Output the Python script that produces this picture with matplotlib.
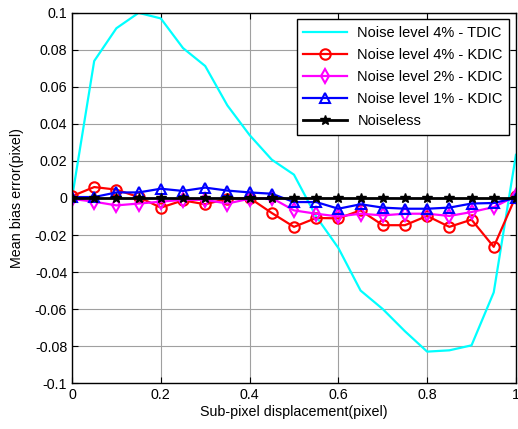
import matplotlib
matplotlib.use("Agg")
import matplotlib.pyplot as plt
import numpy as np

plt.rcParams['font.family'] = ['Liberation Sans', 'DejaVu Sans']

x = [0, 0.05, 0.1, 0.15, 0.2, 0.25, 0.3, 0.35, 0.4, 0.45, 0.5,
     0.55, 0.6, 0.65, 0.7, 0.75, 0.8, 0.85, 0.9, 0.95, 1.0]

tdic_4 = [0, 0.074, 0.0917, 0.1, 0.097, 0.081, 0.0713, 0.050, 0.034, 0.0207, 0.0126,
          -0.010, -0.027, -0.050, -0.060, -0.072, -0.083, -0.0823, -0.0796, -0.051, 0.0233]
kdic_4 = [0.001, 0.0059, 0.0045, 0.0005, -0.0052, -0.0013, -0.0034, -0.0004, 0.0, -0.0081, -0.0156,
          -0.0108, -0.011, -0.0067, -0.0147, -0.0147, -0.0097, -0.0156, -0.0117, -0.0264, 0.001]
kdic_2 = [-0.0005, -0.002, -0.004, -0.003, -0.002, -0.001, -0.001, -0.003, -0.0004, 0.0, -0.0067,
          -0.0085, -0.010, -0.0085, -0.0094, -0.0085, -0.0085, -0.0097, -0.0076, -0.0049, 0.001]
kdic_1 = [0.0005, 0.0005, 0.003, 0.003, 0.005, 0.0038, 0.0056, 0.004, 0.003, 0.0023, -0.0022,
          -0.0022, -0.0058, -0.0034, -0.0052, -0.0058, -0.0058, -0.0052, -0.003, -0.0027, 0.0]
noiseless = [0.0] * len(x)

labels = ['Noise level 4% - TDIC', 'Noise level 4% - KDIC', 'Noise level 2% - KDIC',
          'Noise level 1% - KDIC', 'Noiseless']

fig = plt.figure(figsize=(5.18, 4.29), dpi=100)
ax = fig.add_axes([0.139, 0.107, 0.857, 0.863])

lw = 1.6
ax.plot(x, tdic_4, color=(0, 1, 1), lw=lw, label=labels[0])
ax.plot(x, kdic_4, color=(1, 0, 0), lw=lw, marker='o', ms=7.5, mfc='none', mew=1.5, label=labels[1])
ax.plot(x, kdic_2, color=(1, 0, 1), lw=lw, marker='d', ms=7.5, mfc='none', mew=1.5, label=labels[2])
ax.plot(x, kdic_1, color=(0, 0, 1), lw=lw, marker='^', ms=7.5, mfc='none', mew=1.5, label=labels[3])
ax.plot(x, noiseless, color='black', lw=2.0, marker='*', ms=7, label=labels[4])

ax.set_xlim(0, 1)
ax.set_ylim(-0.1, 0.1)
ax.set_xticks([0, 0.2, 0.4, 0.6, 0.8, 1])
ax.set_xticklabels(['0', '0.2', '0.4', '0.6', '0.8', '1'])
ax.set_yticks(np.round(np.arange(-0.1, 0.1001, 0.02), 2))
ax.set_yticklabels(['-0.1', '-0.08', '-0.06', '-0.04', '-0.02', '0', '0.02', '0.04', '0.06', '0.08', '0.1'])
ax.grid(True, color='#a0a0a0', lw=0.8)
ax.set_axisbelow(True)
ax.tick_params(direction='in', top=True, right=True, labelsize=10.3, length=4, colors='black')
for s in ax.spines.values():
    s.set_linewidth(1.0)
ax.set_xlabel('Sub-pixel displacement(pixel)', fontsize=10.3, labelpad=2)
ax.set_ylabel('Mean bias error(pixel)', fontsize=10.3, labelpad=8)

leg = ax.legend(loc='upper right', fontsize=10.5, fancybox=False, framealpha=1, edgecolor='black',
                borderaxespad=0.45, handlelength=3.0, labelspacing=0.55, borderpad=0.45,
                handletextpad=0.7)
leg.get_frame().set_linewidth(1.0)

fig.savefig('out.png', dpi=100)
